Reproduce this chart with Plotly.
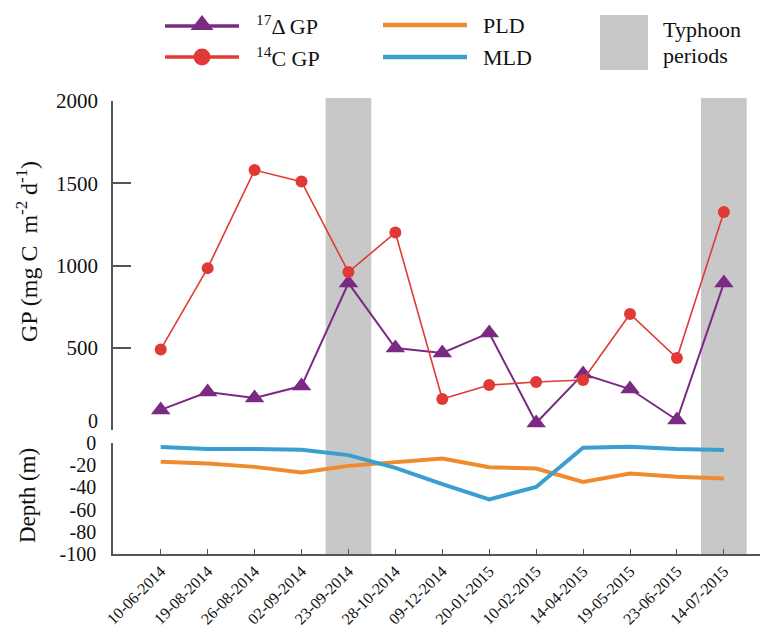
import plotly.graph_objects as go

# Sampling dates (categorical x axis)
dates = ["10-06-2014", "19-08-2014", "26-08-2014", "02-09-2014", "23-09-2014",
         "28-10-2014", "09-12-2014", "20-01-2015", "10-02-2015", "14-04-2015",
         "19-05-2015", "23-06-2015", "14-07-2015"]

# Gross production (mg C m-2 d-1)
gp_17d = [122, 231, 194, 267, 893, 498, 468, 590, 43, 340, 249, 61, 893]
gp_14c = [490, 984, 1580, 1510, 960, 1200, 188, 273, 292, 304, 705, 437, 1325]

# Layer depths (m)
pld = [-17, -18.4, -21.5, -26.6, -20.6, -17.5, -13.9, -21.8, -23, -35, -27.5, -30.5, -32]
mld = [-3.6, -5.4, -5.4, -6, -10.9, -22.4, -37, -50.8, -39.6, -4.2, -3.3, -5.4, -6.3]

# Sampling dates that fell within typhoon periods
typhoon_dates = ["23-09-2014", "14-07-2015"]

gp_ticks = [0, 500, 1000, 1500, 2000]
depth_ticks = [0, -20, -40, -60, -80, -100]

W, H = 763, 629
FONT = "Liberation Serif"
PURPLE = "#7a2a82"
RED = "#e03a36"
ORANGE = "#f08a2e"
BLUE = "#3a9fd0"
BAND = "#c8c8c8"
AXIS = "#555555"
INK = "#111111"


def fy(py):
    """Pixel row -> paper fraction (margins are zero)."""
    return (H - py) / H


fig = go.Figure()

# Upper panel: gross production
fig.add_trace(go.Scatter(
    x=dates, y=gp_17d, xaxis="x", yaxis="y", mode="lines+markers",
    line=dict(color=PURPLE, width=2),
    marker=dict(symbol="triangle-up", size=17, color=PURPLE),
    showlegend=False))
fig.add_trace(go.Scatter(
    x=dates, y=gp_14c, xaxis="x", yaxis="y", mode="lines+markers",
    line=dict(color=RED, width=1.6),
    marker=dict(symbol="circle", size=12, color=RED),
    showlegend=False))

# Lower panel: layer depths
fig.add_trace(go.Scatter(
    x=dates, y=pld, xaxis="x", yaxis="y2", mode="lines",
    line=dict(color=ORANGE, width=4), showlegend=False))
fig.add_trace(go.Scatter(
    x=dates, y=mld, xaxis="x", yaxis="y2", mode="lines",
    line=dict(color=BLUE, width=4), showlegend=False))

# Typhoon bands spanning both panels
shapes = []
for d in typhoon_dates:
    i = dates.index(d)
    shapes.append(dict(type="rect", xref="x", yref="paper",
                       x0=i - 0.487, x1=i + 0.487, y0=fy(554), y1=fy(98),
                       fillcolor=BAND, line=dict(width=0), layer="below"))

# Legend drawn on a hidden pixel-space overlay axis
leg_x0, leg_x1, leg_mid = 165, 239, 202
fig.add_trace(go.Scatter(
    x=[leg_x0, leg_x1], y=[26, 26], xaxis="x3", yaxis="y3", mode="lines",
    line=dict(color=PURPLE, width=3.5), showlegend=False, hoverinfo="skip"))
fig.add_trace(go.Scatter(
    x=[leg_mid], y=[25], xaxis="x3", yaxis="y3", mode="markers",
    marker=dict(symbol="triangle-up", size=20, color=PURPLE),
    showlegend=False, hoverinfo="skip"))
fig.add_trace(go.Scatter(
    x=[leg_x0, leg_x1], y=[57, 57], xaxis="x3", yaxis="y3", mode="lines",
    line=dict(color=RED, width=3.5), showlegend=False, hoverinfo="skip"))
fig.add_trace(go.Scatter(
    x=[leg_mid], y=[57], xaxis="x3", yaxis="y3", mode="markers",
    marker=dict(symbol="circle", size=17, color=RED),
    showlegend=False, hoverinfo="skip"))
fig.add_trace(go.Scatter(
    x=[383, 467], y=[25, 25], xaxis="x3", yaxis="y3", mode="lines",
    line=dict(color=ORANGE, width=4.5), showlegend=False, hoverinfo="skip"))
fig.add_trace(go.Scatter(
    x=[383, 467], y=[57, 57], xaxis="x3", yaxis="y3", mode="lines",
    line=dict(color=BLUE, width=4.5), showlegend=False, hoverinfo="skip"))
shapes.append(dict(type="rect", xref="x3", yref="y3", x0=600, x1=648, y0=15, y1=70,
                   fillcolor=BAND, line=dict(width=0)))

tfont = dict(family=FONT, size=22, color=INK)
annotations = [
    dict(xref="x3", yref="y3", x=254, y=25, text="<sup>17</sup>Δ GP",
         xanchor="left", yanchor="middle", showarrow=False, font=tfont),
    dict(xref="x3", yref="y3", x=254, y=57, text="<sup>14</sup>C GP",
         xanchor="left", yanchor="middle", showarrow=False, font=tfont),
    dict(xref="x3", yref="y3", x=481, y=25, text="PLD",
         xanchor="left", yanchor="middle", showarrow=False, font=tfont),
    dict(xref="x3", yref="y3", x=481, y=57, text="MLD",
         xanchor="left", yanchor="middle", showarrow=False, font=tfont),
    dict(xref="x3", yref="y3", x=661, y=29, text="Typhoon",
         xanchor="left", yanchor="middle", showarrow=False, font=tfont),
    dict(xref="x3", yref="y3", x=661, y=55, text="periods",
         xanchor="left", yanchor="middle", showarrow=False, font=tfont),
    # Axis titles
    dict(xref="x3", yref="y3", x=27, y=252, text="GP (mg C  m<sup>-2</sup> d<sup>-1</sup>)",
         textangle=-90, showarrow=False, xanchor="center", yanchor="middle",
         font=dict(family=FONT, size=24, color=INK)),
    dict(xref="x3", yref="y3", x=27, y=496, text="Depth (m)",
         textangle=-90, showarrow=False, xanchor="center", yanchor="middle",
         font=dict(family=FONT, size=23, color=INK)),
    # Zero label of the upper panel, nudged up off the lower panel's zero
    dict(xref="x3", yref="y", x=100, y=0, text="0", xanchor="right", yanchor="middle",
         yshift=9, showarrow=False, font=dict(family=FONT, size=20, color=INK)),
]

tickfont = dict(family=FONT, size=21, color=INK)
fig.update_layout(
    width=W, height=H,
    margin=dict(l=0, r=0, t=0, b=0),
    paper_bgcolor="white", plot_bgcolor="rgba(0,0,0,0)",
    template="none",
    showlegend=False,
    xaxis=dict(domain=[113 / W, 760 / W], anchor="y2", type="category",
               range=[-1.017, 12.77], showline=True, linecolor=AXIS, linewidth=1.5,
               ticks="inside", ticklen=5, tickcolor=AXIS, tickwidth=1.2,
               tickangle=-45, tickfont=dict(family=FONT, size=16, color=INK),
               ticklabelstandoff=0,
               showgrid=False, zeroline=False, automargin=False),
    yaxis=dict(domain=[fy(430), fy(101)], anchor="x", range=[0, 2000],
               tickvals=gp_ticks, ticktext=["" if v == 0 else str(v) for v in gp_ticks],
               showline=True, linecolor=AXIS, linewidth=1.5,
               ticks="inside", ticklen=18, tickcolor=AXIS, tickwidth=1.5,
               tickfont=tickfont, ticklabelstandoff=9,
               showgrid=False, zeroline=False, automargin=False),
    yaxis2=dict(domain=[fy(554), fy(443)], anchor="x", range=[-100, 0],
                tickvals=depth_ticks, ticktext=[str(v) for v in depth_ticks],
                showline=True, linecolor=AXIS, linewidth=1.5, ticks="",
                tickfont=dict(family=FONT, size=20, color=INK), ticklabelstandoff=11,
                showgrid=False, zeroline=False, automargin=False),
    xaxis3=dict(domain=[0, 1], anchor="y3", range=[0, W], visible=False,
                fixedrange=True, automargin=False),
    yaxis3=dict(domain=[0, 1], anchor="x3", range=[H, 0], visible=False,
                fixedrange=True, automargin=False),
    shapes=shapes,
    annotations=annotations,
)

fig.write_html("out.html")
